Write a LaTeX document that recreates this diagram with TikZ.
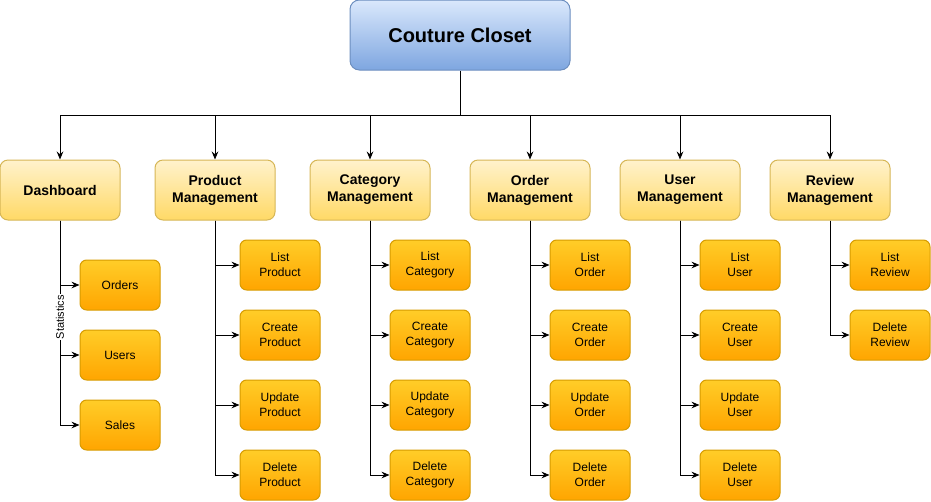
\documentclass[tikz,border=0pt]{standalone}
\usepackage{fontspec}
\setmainfont{Liberation Sans}
\usepackage{tikz}
\usetikzlibrary{positioning}
\usetikzlibrary{arrows.meta}

\definecolor{rootTop}{HTML}{DAE8FC}
\definecolor{rootBot}{HTML}{7EA6E0}
\definecolor{rootLine}{HTML}{6C8EBF}
\definecolor{mgrTop}{HTML}{FFF2CC}
\definecolor{mgrBot}{HTML}{FFD966}
\definecolor{mgrLine}{HTML}{D6B656}
\definecolor{leafTop}{HTML}{FFCD28}
\definecolor{leafBot}{HTML}{FFA500}
\definecolor{leafLine}{HTML}{D79B00}

\begin{document}
\begin{tikzpicture}[
x=0.75pt, y=-0.75pt,
rootnode/.style={
    rectangle,
    rounded corners=7pt,
    draw=rootLine,
    top color=rootTop,
    bottom color=rootBot,
    line width=0.75pt,
    minimum width=165pt,
    minimum height=52.5pt,
    font=\fontsize{15}{18}\selectfont\bfseries,
},
mgrnode/.style={
    rectangle,
    rounded corners=6pt,
    draw=mgrLine,
    top color=mgrTop,
    bottom color=mgrBot,
    line width=0.75pt,
    minimum width=90pt,
    minimum height=45pt,
    align=center,
    font=\fontsize{10.5}{12.75}\selectfont\bfseries,
},
leafnode/.style={
    rectangle,
    rounded corners=5pt,
    draw=leafLine,
    top color=leafTop,
    bottom color=leafBot,
    line width=0.75pt,
    minimum width=60pt,
    minimum height=37.5pt,
    align=center,
    font=\fontsize{9}{11.25}\selectfont,
},
link/.style={
    draw=black,
    line width=0.75pt,
    -{Stealth[length=6pt, width=5pt, inset=2pt]},
},
]

\useasboundingbox (0,0) rectangle (931,501);

% top
\node[rootnode] (root) at (460,35) {Couture Closet};
\coordinate (split) at (460,115);

% second level
\node[mgrnode] (dash) at (60,190)  {Dashboard};
\node[mgrnode] (prod) at (215,190) {Product\\Management};
\node[mgrnode] (cat)  at (370,190) {Category\\Management};
\node[mgrnode] (ord)  at (530,190) {Order\\Management};
\node[mgrnode] (usr)  at (680,190) {User\\Management};
\node[mgrnode] (rev)  at (830,190) {Review\\Management};

% dashboard
\node[leafnode] (dash-1) at (120,285) {Orders};
\node[leafnode] (dash-2) at (120,355) {Users};
\node[leafnode] (dash-3) at (120,425) {Sales};

% product
\node[leafnode] (prod-1) at (280,265) {List\\Product};
\node[leafnode] (prod-2) at (280,335) {Create\\Product};
\node[leafnode] (prod-3) at (280,405) {Update\\Product};
\node[leafnode] (prod-4) at (280,475) {Delete\\Product};

% category
\node[leafnode] (cat-1) at (430,265) {List\\Category};
\node[leafnode] (cat-2) at (430,335) {Create\\Category};
\node[leafnode] (cat-3) at (430,405) {Update\\Category};
\node[leafnode] (cat-4) at (430,475) {Delete\\Category};

% order
\node[leafnode] (ord-1) at (590,265) {List\\Order};
\node[leafnode] (ord-2) at (590,335) {Create\\Order};
\node[leafnode] (ord-3) at (590,405) {Update\\Order};
\node[leafnode] (ord-4) at (590,475) {Delete\\Order};

% user
\node[leafnode] (usr-1) at (740,265) {List\\User};
\node[leafnode] (usr-2) at (740,335) {Create\\User};
\node[leafnode] (usr-3) at (740,405) {Update\\User};
\node[leafnode] (usr-4) at (740,475) {Delete\\User};

% review
\node[leafnode] (rev-1) at (890,265) {List\\Review};
\node[leafnode] (rev-2) at (890,335) {Delete\\Review};

% root to second level
\draw[line width=0.75pt] (root.south) -- (split);
\draw[link] (split) -| (dash.north);
\draw[link] (split) -| (prod.north);
\draw[link] (split) -| (cat.north);
\draw[link] (split) -| (ord.north);
\draw[link] (split) -| (usr.north);
\draw[link] (split) -| (rev.north);

% second level to leaves
\draw[link] (dash.south) |- (dash-1.west);
\draw[link] (dash.south) |- (dash-2.west);
\draw[link] (dash.south) |- (dash-3.west);

\draw[link] (prod.south) |- (prod-1.west);
\draw[link] (prod.south) |- (prod-2.west);
\draw[link] (prod.south) |- (prod-3.west);
\draw[link] (prod.south) |- (prod-4.west);

\draw[link] (cat.south) |- (cat-1.west);
\draw[link] (cat.south) |- (cat-2.west);
\draw[link] (cat.south) |- (cat-3.west);
\draw[link] (cat.south) |- (cat-4.west);

\draw[link] (ord.south) |- (ord-1.west);
\draw[link] (ord.south) |- (ord-2.west);
\draw[link] (ord.south) |- (ord-3.west);
\draw[link] (ord.south) |- (ord-4.west);

\draw[link] (usr.south) |- (usr-1.west);
\draw[link] (usr.south) |- (usr-2.west);
\draw[link] (usr.south) |- (usr-3.west);
\draw[link] (usr.south) |- (usr-4.west);

\draw[link] (rev.south) |- (rev-1.west);
\draw[link] (rev.south) |- (rev-2.west);

% edge label
\node[fill=white, rotate=90, inner sep=0.5pt, font=\fontsize{8.25}{9}\selectfont] (stats) at (60,317) {Statistics};

\end{tikzpicture}
\end{document}
